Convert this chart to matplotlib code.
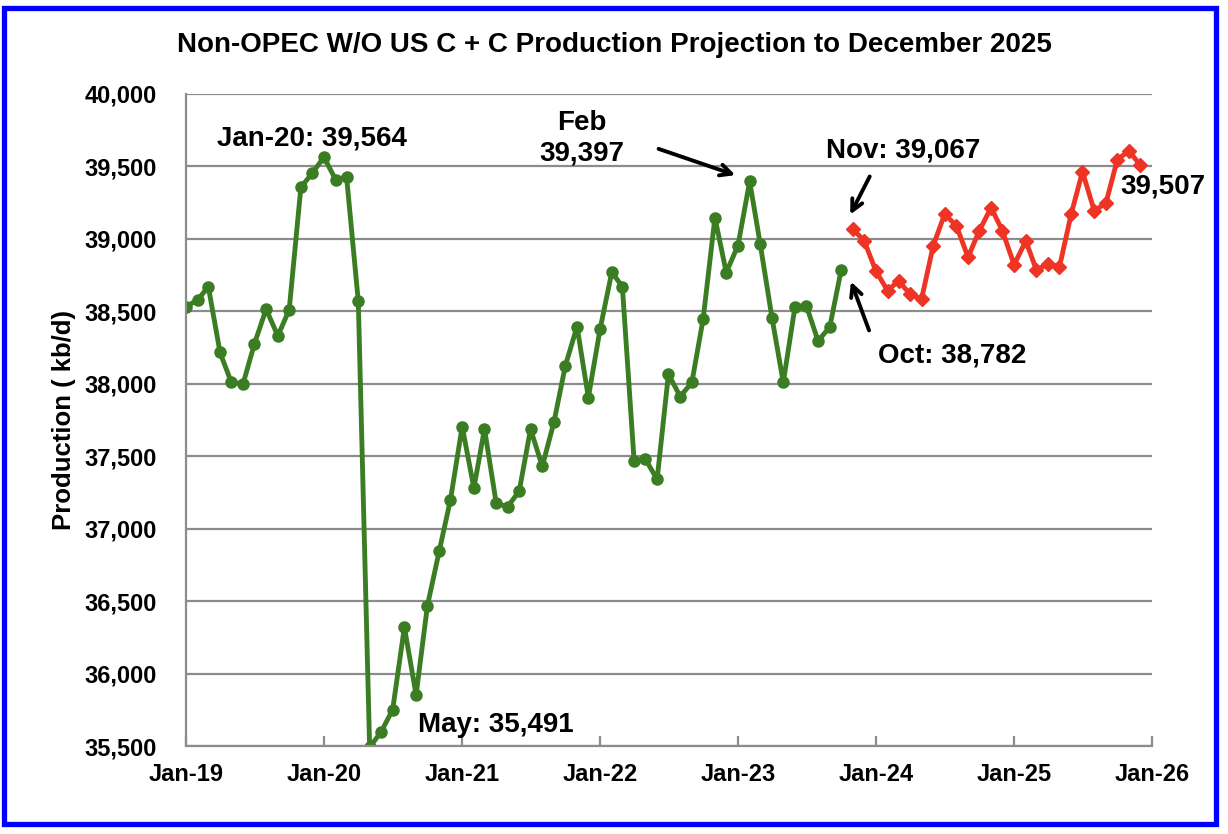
import matplotlib
matplotlib.use("Agg")
import matplotlib.pyplot as plt
import matplotlib.dates as mdates
from matplotlib.patches import Rectangle
import numpy as np

plt.rcParams['font.family'] = ['Liberation Sans', 'DejaVu Sans']
plt.rcParams['font.weight'] = 'bold'

# actual production, Dec-18 .. Oct-23 (kb/d)
actual = [38800,
          38533, 38579, 38671, 38216, 38009, 38000, 38276, 38515, 38331, 38510, 39356, 39453,
          39564, 39409, 39427, 38568, 35491, 35600, 35751, 36320, 35853, 36469, 36843, 37200,
          37705, 37280, 37689, 37177, 37150, 37260, 37687, 37430, 37736, 38124, 38395, 37905,
          38377, 38770, 38671, 37470, 37480, 37340, 38067, 37912, 38009, 38450, 39147, 38768,
          38954, 39397, 38963, 38457, 38009, 38533, 38540, 38296, 38391, 38782]
actual_dates = np.arange('2018-12', '2023-11', dtype='datetime64[M]').astype('datetime64[D]')

# projection, Nov-23 .. Dec-25
proj = [39067, 38988,
        38779, 38643, 38710, 38618, 38584, 38954, 39170, 39092, 38874, 39057, 39216, 39057,
        38821, 38986, 38786, 38828, 38805, 39170, 39464, 39195, 39246, 39545, 39609, 39507]
proj_dates = np.arange('2023-11', '2026-01', dtype='datetime64[M]').astype('datetime64[D]')

green = '#3a7d22'
red = '#ee3424'

fig = plt.figure(figsize=(12.28, 8.34), dpi=100)
ax = fig.add_axes([0.1515, 0.1055, 0.7866, 0.7818])

ax.plot(actual_dates, actual, color=green, lw=3.5, marker='o', ms=8)
ax.plot(proj_dates, proj, color=red, lw=3.5, marker='D', ms=7)

ax.set_xlim(np.datetime64('2019-01-01'), np.datetime64('2026-01-01'))
ax.set_ylim(35500, 40000)
ax.set_yticks(np.arange(35500, 40001, 500))
ax.yaxis.set_major_formatter(matplotlib.ticker.FuncFormatter(lambda v, p: f'{v:,.0f}'))
ax.xaxis.set_major_locator(mdates.YearLocator())
ax.xaxis.set_major_formatter(mdates.DateFormatter('%b-%y'))

ax.grid(axis='y', color='#8c8c8c', lw=1.6)
ax.set_axisbelow(True)
for s in ['top', 'right']:
    ax.spines[s].set_visible(False)
for s in ['left', 'bottom']:
    ax.spines[s].set_color('#8c8c8c')
    ax.spines[s].set_linewidth(1.6)
ax.tick_params(axis='x', direction='in', length=7, width=1.6, color='#8c8c8c',
               labelsize=17, pad=12)
ax.tick_params(axis='y', length=0, labelsize=17, pad=21)
ax.set_ylabel('Production ( kb/d)', fontsize=18.5, fontweight='bold', labelpad=6)

fig.suptitle('Non-OPEC W/O US C + C Production Projection to December 2025',
             fontsize=20, fontweight='bold', y=0.946, va='center')

kw = dict(fontsize=20, fontweight='bold', transform=ax.transAxes)
ax.text(0.1304, 0.9325, 'Jan-20: 39,564', ha='center', va='center', **kw)
ax.text(0.2402, 0.0322, 'May: 35,491', ha='left', va='center', **kw)
ax.text(0.4099, 0.9325, 'Feb\n39,397', ha='center', va='center', linespacing=1.2, **kw)
ax.text(0.6625, 0.914, 'Nov: 39,067', ha='left', va='center', **kw)
ax.text(0.7164, 0.5982, 'Oct: 38,782', ha='left', va='center', **kw)
ax.text(0.9669, 0.8574, '39,507', ha='left', va='center', clip_on=False, **kw)

arrow = dict(arrowstyle='->,head_length=0.8,head_width=0.4', color='black', lw=2.8)
for start, end in [((0.4865, 0.9172), (0.5714, 0.8742)),
                   ((0.7091, 0.8773), (0.6863, 0.8113)),
                   ((0.7081, 0.6334), (0.6874, 0.7163))]:
    ax.annotate('', xy=end, xytext=start, xycoords='axes fraction',
                textcoords='axes fraction', arrowprops=arrow)

fig.patches.append(Rectangle((0.0033, 0.012), 0.9867, 0.978, transform=fig.transFigure,
                             fill=False, edgecolor='#0000ff', lw=3.8))

fig.savefig('out.png', dpi=100)
